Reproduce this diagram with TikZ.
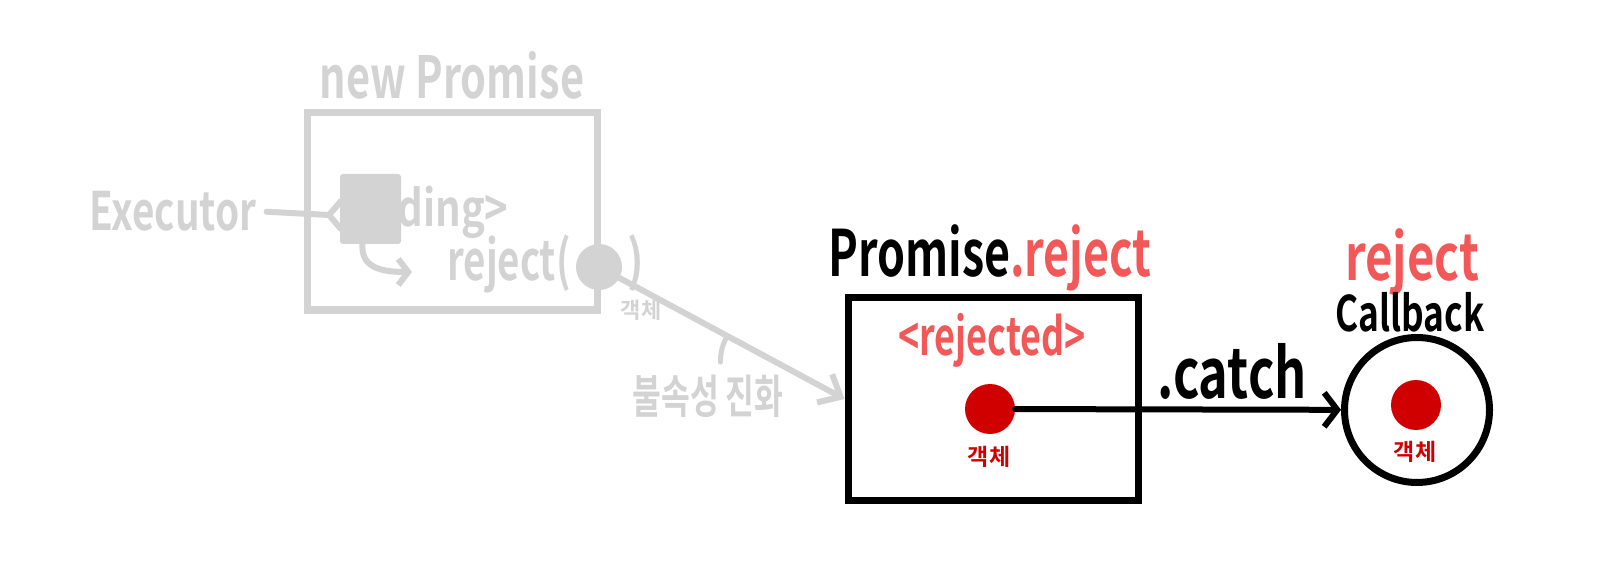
\documentclass[tikz,border=0pt]{standalone}
\usepackage{fontspec}
\setmainfont{Noto Sans CJK KR}[BoldFont={Noto Sans CJK KR Bold}]
\usetikzlibrary{arrows.meta}
\definecolor{pgray}{RGB}{211,211,211}
\definecolor{pred}{RGB}{242,88,88}
\definecolor{dred}{RGB}{208,0,0}
\newcommand{\nar}[2]{\scalebox{#1}[1]{#2}}
\begin{document}
\begin{tikzpicture}[x=1pt,y=-1pt,
  txt/.style={inner sep=0pt, anchor=base},
  fs/.style={font=\bfseries\fontsize{#1}{#1}\selectfont},
  gl/.style={draw=pgray, line width=6pt, line cap=round, line join=round},
  bl/.style={draw=black, line width=6pt, line cap=round, line join=round},
  dot/.style={circle, inner sep=0pt, minimum size=#1}
]
\useasboundingbox[fill=white] (0,0) rectangle (1606,577);

% ---------- gray part ----------
\node[txt,fs=58,text=pgray] (np) at (452,99) {\nar{0.715}{new Promise}};
\node[draw=pgray, line width=7pt, minimum width=290pt, minimum height=197pt, inner sep=0pt] (gbox) at (452,211.5) {};
\node[txt,fs=53,text=pgray] (exec) at (173,231) {\nar{0.73}{Executor}};
\node[txt,fs=50,text=pgray] (ding) at (453,227) {\nar{0.8}{ding>}};
\coordinate (lt) at (329,215);
\draw[gl] ([xshift=10pt]exec.east) -- (lt);
\draw[gl] ([shift={(12,-14)}]lt) -- (lt) -- ([shift={(12,14)}]lt);
\node[fill=pgray, rounded corners=3pt, minimum width=61pt, minimum height=70pt, inner sep=0pt] (sq) at (370.5,209) {};
\coordinate (ce) at (412,272);
\draw[gl, -{Straight Barb[length=10pt,width=26pt]}] ([xshift=-8pt]sq.south) .. controls (361,266) and (378,272) .. (ce);
\node[txt,fs=55,text=pgray] (rj) at (509,280) {\nar{0.70}{reject(}};
\node[dot=46pt, fill=pgray] (gc) at (599,267) {};
\node[txt,fs=55,text=pgray] (rp) at (636,280) {\nar{0.8}{)}};
\node[txt,fs=22,text=pgray] (gobj) at (641,318) {객체};

% ---------- black part ----------
\node[txt,fs=64] (pr) at (990,277) {\nar{0.70}{Promise\textcolor{pred}{.reject}}};
\node[draw, line width=7pt, minimum width=290pt, minimum height=202pt, inner sep=0pt] (bbox) at (993,399) {};
\node[txt,fs=52,text=pred] (rjd) at (992,355) {\nar{0.69}{<rejected>}};
\node[dot=50pt, fill=dred] (rc) at (990,409) {};
\node[txt,fs=23,text=dred] (o1) at (989,465) {객체};

\draw[gl, -{Straight Barb[length=18pt,width=32pt]}] (gc) -- (bbox.west);
\path (gc) -- (bbox.west) coordinate[pos=0.48] (tk);
\draw[gl, line width=5pt] (tk) .. controls ([shift={(-5,8)}]tk) and ([shift={(-7,16)}]tk) .. ([shift={(-7,26)}]tk);
\node[txt,fs=46,text=pgray] (evo) at (708,413) {\nar{0.68}{불속성 진화}};

\node[dot=145pt, draw, line width=7pt] (cb) at (1417,410) {};
\node[dot=50pt, fill=dred] (rc2) at (1416,405) {};
\node[txt,fs=23,text=dred] (o2) at (1415,460) {객체};
\node[txt,fs=64,text=pred] (rj2) at (1412,281) {\nar{0.74}{reject}};
\node[txt,fs=49] (cbk) at (1410,331) {\nar{0.72}{Callback}};
\node[txt,fs=69] (catch) at (1232,398) {\nar{0.73}{.catch}};

\draw[bl, -{Straight Barb[length=13pt,width=34pt]}] (rc) -- (cb);
\end{tikzpicture}
\end{document}
